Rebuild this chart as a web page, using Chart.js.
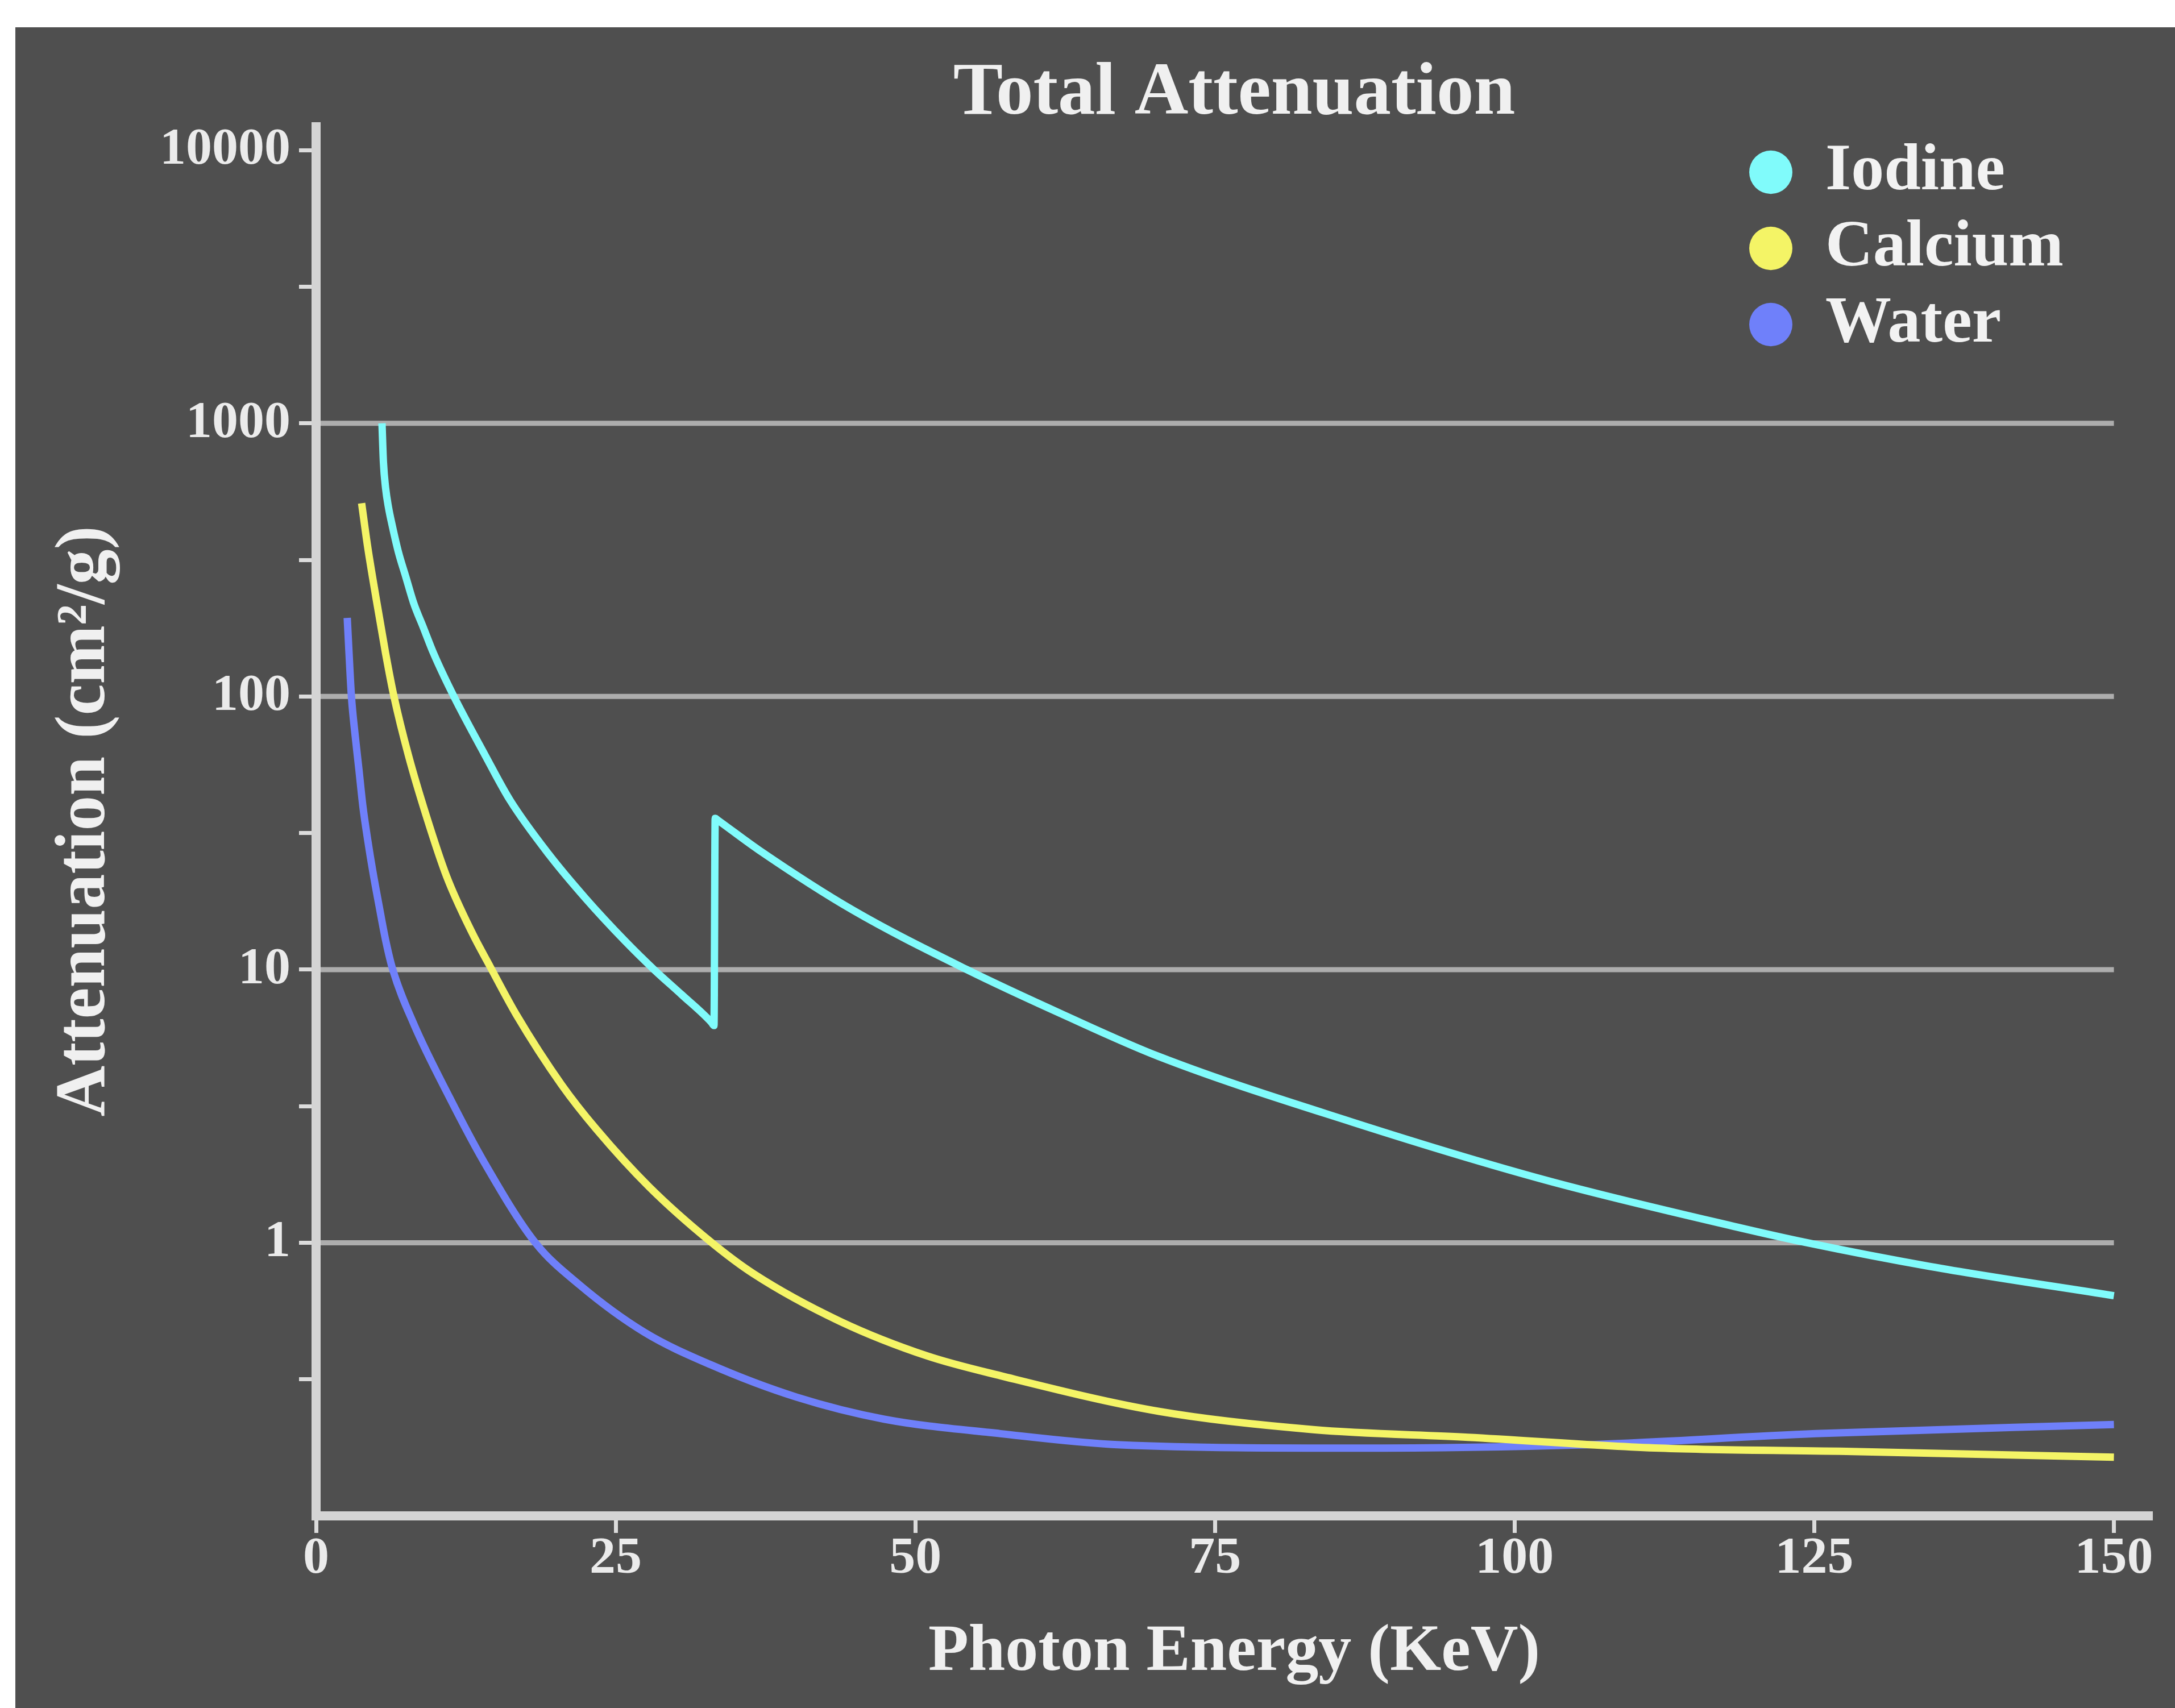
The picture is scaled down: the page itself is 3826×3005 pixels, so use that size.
<!DOCTYPE html>
<html>
<head>
<meta charset="utf-8">
<script src="https://cdn.jsdelivr.net/npm/chart.js@4.4.1/dist/chart.umd.min.js"></script>
<style>
  html, body { margin: 0; padding: 0; background: #ffffff; width: 3826px; height: 3005px; overflow: hidden; }
  #wrap { position: absolute; left: 27px; top: 48px; width: 3799px; height: 2957px; background: #4f4f4f; }
  canvas { display: block; }
</style>
</head>
<body>
<div id="wrap"><canvas id="c" width="3799" height="2957"></canvas></div>
<script>
// ---------------- data ----------------
const seriesNames = ['Iodine', 'Calcium', 'Water'];

const iodineEnergy = [5.5, 5.62, 5.8, 6.05, 6.34, 6.86, 7.5, 8.14, 8.97, 9.8, 11.5, 14.1, 16.2, 19.4, 22.5, 25.8, 28.2, 30.5, 33.0, 33.2, 33.3, 33.5, 36.9, 44.8, 54.3, 62.3, 70.3, 86.4, 102.5, 118.6, 124.4, 134.7, 150];
const iodineAtten  = [1000, 720, 580, 490, 425, 339, 273, 220, 178, 144, 100, 61, 41.6, 26.5, 18.2, 12.7, 10, 8.1, 6.4, 6.24, 35.8, 35.3, 27.5, 16.5, 10, 6.85, 4.81, 2.77, 1.70, 1.14, 1.0, 0.818, 0.64];

const calciumEnergy = [3.8, 4.3, 5.0, 5.8, 6.5, 7.7, 9.2, 10.9, 13.0, 14.5, 16.7, 20.5, 23.4, 27.8, 32.9, 36.5, 43.7, 51.0, 57.1, 70.4, 83.2, 96.1, 112.1, 128.2, 150];
const calciumAtten  = [510, 354, 230, 144, 100, 61, 36.5, 21.9, 13.7, 10.3, 6.85, 3.78, 2.60, 1.60, 1.01, 0.77, 0.516, 0.385, 0.326, 0.241, 0.207, 0.194, 0.177, 0.172, 0.164];

const waterEnergy = [2.6, 2.75, 2.95, 3.26, 3.58, 3.9, 4.32, 4.74, 5.27, 5.79, 6.4, 8.17, 11.1, 14.0, 18.3, 22.0, 27.4, 32.9, 40.1, 47.4, 57.1, 67.1, 86.4, 105.7, 125.1, 150];
const waterAtten  = [194, 144, 100, 72, 53.8, 39.8, 29.6, 22.8, 17, 12.9, 10, 6.3, 3.43, 1.98, 1.0, 0.70, 0.47, 0.358, 0.272, 0.226, 0.20, 0.182, 0.177, 0.182, 0.20, 0.216];

const xTicks = [0, 25, 50, 75, 100, 125, 150];
const yTickValues = [0.3162, 1, 3.162, 10, 31.62, 100, 316.2, 1000, 3162, 10000];
const yTickLabels = ['', '1', '', '10', '', '100', '', '1000', '', '10000'];
const yGridValues = [1, 10, 100, 1000];

// ---------------- styles ----------------
const COLORS = { Iodine: '#80fbfb', Calcium: '#f4f466', Water: '#6f80fa' };
const SERIF = "'Liberation Serif', 'Times New Roman', serif";
const TEXT = '#f0f0f0';

function toPoints(xs, ys) { return xs.map((x, i) => ({ x: x, y: ys[i] })); }
function makeSet(name, xs, ys) {
  return {
    label: name,
    data: toPoints(xs, ys),
    borderColor: COLORS[name],
    backgroundColor: COLORS[name],
    borderWidth: 13,
    pointRadius: 0,
    pointHoverRadius: 0,
    fill: false,
    cubicInterpolationMode: 'monotone'
  };
}

const plotGrid = {
  id: 'plotGrid',
  beforeDraw(chart) {
    const { ctx, scales } = chart;
    const xs = scales.x, ys = scales.y;
    const x0 = xs.getPixelForValue(xTicks[0]);
    const x1 = xs.getPixelForValue(xTicks[xTicks.length - 1]);
    ctx.save();
    ctx.strokeStyle = '#adadad';
    ctx.lineWidth = 9;
    yGridValues.forEach(v => {
      const py = ys.getPixelForValue(v);
      ctx.beginPath();
      ctx.moveTo(x0, py);
      ctx.lineTo(x1, py);
      ctx.stroke();
    });
    ctx.restore();
  }
};

const LEG_LEFT = 3032, LEG_TOP = 179;
const legendPlace = {
  id: 'legendPlace',
  afterLayout(chart) {
    const lg = chart.legend;
    if (!lg) return;
    lg.left = LEG_LEFT;
    lg.top = LEG_TOP;
    lg.right = chart.width;
    lg.bottom = chart.height;
    lg.width = lg.right - lg.left;
    lg.height = lg.bottom - lg.top;
  }
};

new Chart(document.getElementById('c'), {
  type: 'line',
  data: {
    datasets: [
      makeSet(seriesNames[0], iodineEnergy, iodineAtten),
      makeSet(seriesNames[1], calciumEnergy, calciumAtten),
      makeSet(seriesNames[2], waterEnergy, waterAtten)
    ]
  },
  plugins: [plotGrid, legendPlace],
  options: {
    responsive: false,
    animation: false,
    devicePixelRatio: 1,
    layout: { padding: { top: 0, right: 40, bottom: 0, left: 0 } },
    plugins: {
      tooltip: { enabled: false },
      title: {
        display: true,
        text: 'Total Attenuation',
        color: TEXT,
        fullSize: false,
        font: { family: SERIF, size: 131, weight: 'bold', lineHeight: 0.861 },
        padding: { top: 62, bottom: 0 }
      },
      legend: {
        display: true,
        position: 'chartArea',
        align: 'start',
        labels: {
          usePointStyle: true,
          pointStyle: 'circle',
          pointStyleWidth: 76,
          boxHeight: 54,
          padding: 18,
          textAlign: 'left',
          color: '#f2f2f2',
          font: { family: SERIF, size: 116, weight: 'bold' },
          generateLabels(chart) {
            const items = Chart.defaults.plugins.legend.labels.generateLabels(chart);
            items.forEach(it => { it.lineWidth = 0; it.strokeStyle = 'rgba(0,0,0,0)'; it.pointStyle = 'circle'; });
            return items;
          }
        }
      }
    },
    scales: {
      x: {
        type: 'linear',
        min: 0,
        max: 153.2,
        bounds: 'data',
        afterBuildTicks(scale) { scale.ticks = xTicks.map(v => ({ value: v })); },
        afterFit(scale) { scale.height = 338; },
        grid: { display: true, drawOnChartArea: false, drawTicks: true, tickLength: 30, tickColor: '#dcdcdc', tickWidth: 7 },
        border: { display: true, color: '#d4d4d4', width: 16 },
        ticks: {
          color: '#ebebeb',
          padding: 0,
          maxRotation: 0,
          autoSkip: false,
          font: { family: SERIF, size: 92, weight: 'bold', lineHeight: 1.0 }
        },
        title: {
          display: true,
          text: 'Photon Energy (KeV)',
          color: TEXT,
          font: { family: SERIF, size: 116, weight: 'bold', lineHeight: 1.2 },
          padding: { top: 0, bottom: 27 }
        }
      },
      y: {
        type: 'logarithmic',
        min: 0.1,
        max: 12200,
        bounds: 'data',
        afterBuildTicks(scale) { scale.ticks = yTickValues.map(v => ({ value: v })); },
        afterFit(scale) { scale.width = 529; },
        grid: { display: true, drawOnChartArea: false, drawTicks: true, tickLength: 30, tickColor: '#dcdcdc', tickWidth: 7 },
        border: { display: true, color: '#d4d4d4', width: 16 },
        ticks: {
          color: '#ebebeb',
          padding: 15,
          autoSkip: false,
          font: { family: SERIF, size: 92, weight: 'bold', lineHeight: 1.0 },
          callback(value) {
            const i = yTickValues.indexOf(value);
            return i >= 0 ? yTickLabels[i] : '';
          }
        },
        title: {
          display: true,
          text: 'Attenuation (cm²/g)',
          color: TEXT,
          font: { family: SERIF, size: 124, weight: 'bold', lineHeight: 1.2 },
          padding: { top: 50, bottom: 0 }
        }
      }
    }
  }
});
</script>
</body>
</html>
